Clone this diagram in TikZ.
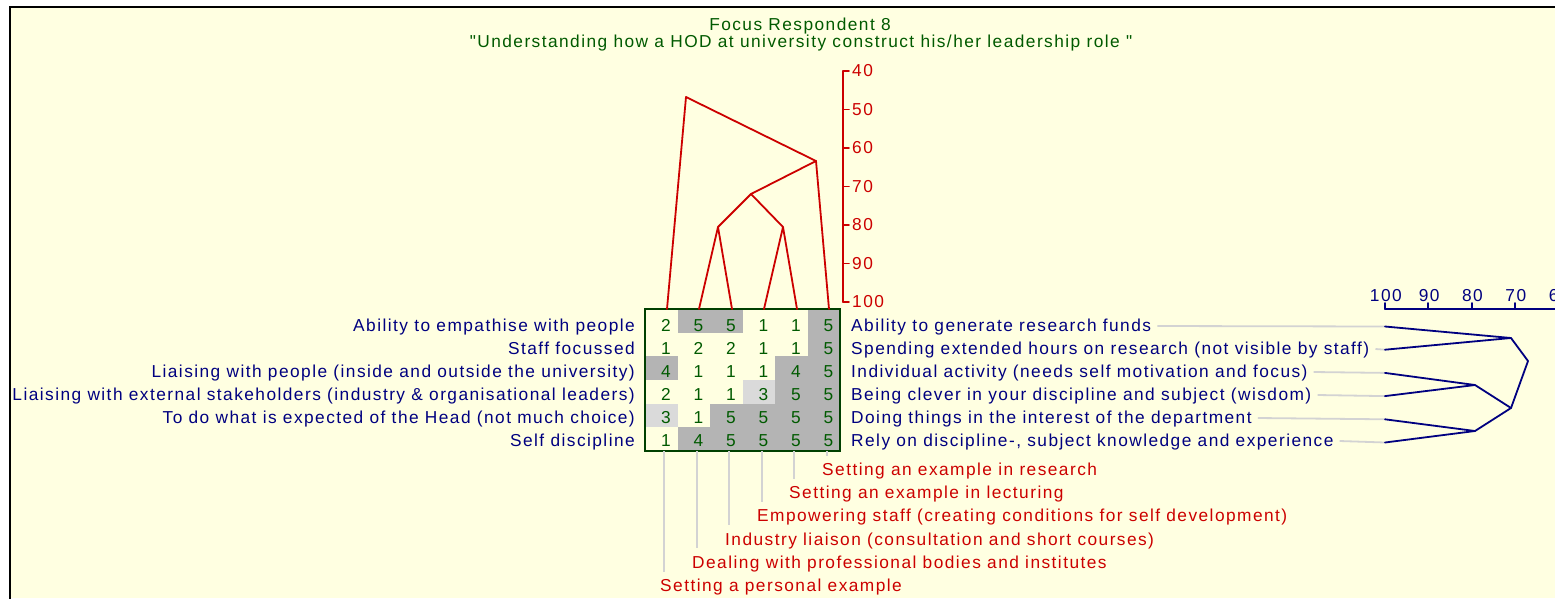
\documentclass[tikz,border=0pt]{standalone}
\usepackage{fontspec}
\setmainfont[LetterSpace=8.4,Ligatures=TeXOff]{Liberation Sans}

\definecolor{paper}{RGB}{255,255,225}
\definecolor{navy}{RGB}{0,0,128}
\definecolor{dendred}{RGB}{204,0,0}
\definecolor{dkgreen}{RGB}{0,90,0}
\definecolor{framegreen}{RGB}{0,64,0}
\definecolor{hicell}{RGB}{180,180,180}
\definecolor{midcell}{RGB}{218,218,218}
\definecolor{leadgrey}{RGB}{211,211,211}

\begin{document}
\begin{tikzpicture}[
    x=1pt, y=-1pt,
    line cap=round,
    line join=round,
    every node/.style={inner sep=0pt, font=\fontsize{17.3}{20}\selectfont},
    construct/.style={text=navy, anchor=base east},
    contrast/.style={text=navy, anchor=base west},
    element/.style={text=dendred, anchor=base west},
    rating/.style={text=dkgreen, anchor=base},
    redtick/.style={text=dendred, anchor=west},
    bluetick/.style={text=navy, anchor=base},
    leader/.style={draw=leadgrey, line width=1.8pt, line cap=butt},
    redtree/.style={draw=dendred, line width=1.8pt},
    bluetree/.style={draw=navy, line width=1.8pt}
]

% -------------------------------------------------
% Sheet and frame
% -------------------------------------------------
\useasboundingbox (0,0) rectangle (1555,598);
\fill[white] (0,0) rectangle (1555,598);
\fill[paper] (10,7) rectangle (1555,598);
\draw[line width=2.6pt, line cap=butt, line join=miter] (10,620) -- (10,7) -- (1575,7);

% -------------------------------------------------
% Title
% -------------------------------------------------
\node[text=dkgreen, anchor=base] (title) at (800,30) {Focus Respondent 8};
\node[text=dkgreen, anchor=base] (topic) at (801,47)
    {"Understanding how a HOD at university construct his/her leadership role "};

% -------------------------------------------------
% Rating grid (shaded: 4-5 dark, 3 light)
% -------------------------------------------------
\foreach \rowvals [count=\j] in {{2,5,5,1,1,5},{1,2,2,1,1,5},{4,1,1,1,4,5},
                                  {2,1,1,3,5,5},{3,1,5,5,5,5},{1,4,5,5,5,5}} {
  \foreach \v [count=\i] in \rowvals {
    \ifnum\v>3
      \fill[hicell] (645+32.5*\i-32.5,309+23.667*\j-23.667) rectangle (645+32.5*\i,309+23.667*\j);
    \fi
    \ifnum\v=3
      \fill[midcell] (645+32.5*\i-32.5,309+23.667*\j-23.667) rectangle (645+32.5*\i,309+23.667*\j);
    \fi
    \node[rating] (c\j\i) at (633.5+32.5*\i,331+23*\j-23) {\v};
  }
}
\draw[draw=framegreen, line width=2pt, line join=miter] (645,309) rectangle (840,451);

% -------------------------------------------------
% Constructs, left pole
% -------------------------------------------------
\node[construct] (lp1) at (635,331) {Ability to empathise with people};
\node[construct] (lp2) at (635,354) {Staff focussed};
\node[construct] (lp3) at (635,377) {Liaising with people (inside and outside the university)};
\node[construct] (lp4) at (635,400) {Liaising with external stakeholders (industry \& organisational leaders)};
\node[construct] (lp5) at (635,423) {To do what is expected of the Head (not much choice)};
\node[construct] (lp6) at (635,446) {Self discipline};

% -------------------------------------------------
% Constructs, right pole
% -------------------------------------------------
\node[contrast] (rp1) at (851,331) {Ability to generate research funds};
\node[contrast] (rp2) at (851,354) {Spending extended hours on research (not visible by staff)};
\node[contrast] (rp3) at (851,377) {Individual activity (needs self motivation and focus)};
\node[contrast] (rp4) at (851,400) {Being clever in your discipline and subject (wisdom)};
\node[contrast] (rp5) at (851,423) {Doing things in the interest of the department};
\node[contrast] (rp6) at (851,446) {Rely on discipline-, subject knowledge and experience};

% -------------------------------------------------
% Elements
% -------------------------------------------------
\node[element] (el6) at (822,475.5) {Setting an example in research};
\node[element] (el5) at (789,498.7) {Setting an example in lecturing};
\node[element] (el4) at (757,521.8) {Empowering staff (creating conditions for self development)};
\node[element] (el3) at (725,545) {Industry liaison (consultation and short courses)};
\node[element] (el2) at (692,568.1) {Dealing with professional bodies and institutes};
\node[element] (el1) at (660,591.3) {Setting a personal example};

% column feet
\coordinate (kb1) at (664,451);
\coordinate (kb2) at (697,451);
\coordinate (kb3) at (729,451);
\coordinate (kb4) at (762,451);
\coordinate (kb5) at (794,451);
\coordinate (kb6) at (827,451);

\draw[leader, shorten >=7pt] (kb1) -- (kb1 |- el1.north);
\draw[leader, shorten >=7pt] (kb2) -- (kb2 |- el2.north);
\draw[leader, shorten >=7pt] (kb3) -- (kb3 |- el3.north);
\draw[leader, shorten >=7pt] (kb4) -- (kb4 |- el4.north);
\draw[leader, shorten >=7pt] (kb5) -- (kb5 |- el5.north);
\draw[leader, shorten >=7pt] (kb6) -- (kb6 |- el6.north);

% -------------------------------------------------
% Element tree (top) with its scale
% -------------------------------------------------
\draw[redtree] (843,71) -- (843,302);
\foreach \p/\yy in {40/71,50/109.5,60/148,70/186.5,80/225,90/263.5,100/302} {
  \draw[redtree] (843,\yy) -- (849,\yy);
  \node[redtick] (rs\p) at (852,\yy) {\p};
}

\coordinate (t1) at (667,309);
\coordinate (t2) at (699,309);
\coordinate (t3) at (732,309);
\coordinate (t4) at (764,309);
\coordinate (t5) at (797,309);
\coordinate (t6) at (829,309);
\coordinate (m23) at (718,227);
\coordinate (m45) at (783,227);
\coordinate (m2345) at (751,194);
\coordinate (m26) at (816,161);
\coordinate (m16) at (686,97);

\draw[redtree] (t1) -- (m16) -- (m26) -- (t6);
\draw[redtree] (m26) -- (m2345);
\draw[redtree] (t2) -- (m23) -- (t3);
\draw[redtree] (t4) -- (m45) -- (t5);
\draw[redtree] (m23) -- (m2345) -- (m45);

% -------------------------------------------------
% Construct tree (right) with its scale
% -------------------------------------------------
\draw[bluetree] (1385,309) -- (1570,309);
\foreach \p/\xx in {100/1385,90/1428.3,80/1471.7,70/1515,60/1558.3} {
  \draw[bluetree] (\xx,309) -- (\xx,303);
  \node[bluetick] (bs\p) at (\xx+0.8,301.5) {\p};
}

\coordinate (b1) at (1385,326.5);
\coordinate (b2) at (1385,349.7);
\coordinate (b3) at (1385,372.9);
\coordinate (b4) at (1385,396.1);
\coordinate (b5) at (1385,419.3);
\coordinate (b6) at (1385,442.5);
\coordinate (n12) at (1511,338);
\coordinate (n34) at (1475,385);
\coordinate (n56) at (1475,431);
\coordinate (n3456) at (1511,408);
\coordinate (ntop) at (1528,361);

% grey leaders from the right pole to the tree
\draw[leader] ([xshift=6pt,yshift=5pt]rp1.base east) -- (b1);
\draw[leader] ([xshift=6pt,yshift=5pt]rp2.base east) -- (b2);
\draw[leader] ([xshift=6pt,yshift=5pt]rp3.base east) -- (b3);
\draw[leader] ([xshift=6pt,yshift=5pt]rp4.base east) -- (b4);
\draw[leader] ([xshift=6pt,yshift=5pt]rp5.base east) -- (b5);
\draw[leader] ([xshift=6pt,yshift=5pt]rp6.base east) -- (b6);

\draw[bluetree] (b1) -- (n12) -- (b2);
\draw[bluetree] (b3) -- (n34) -- (b4);
\draw[bluetree] (b5) -- (n56) -- (b6);
\draw[bluetree] (n34) -- (n3456) -- (n56);
\draw[bluetree] (n12) -- (ntop) -- (n3456);

\end{tikzpicture}
\end{document}
